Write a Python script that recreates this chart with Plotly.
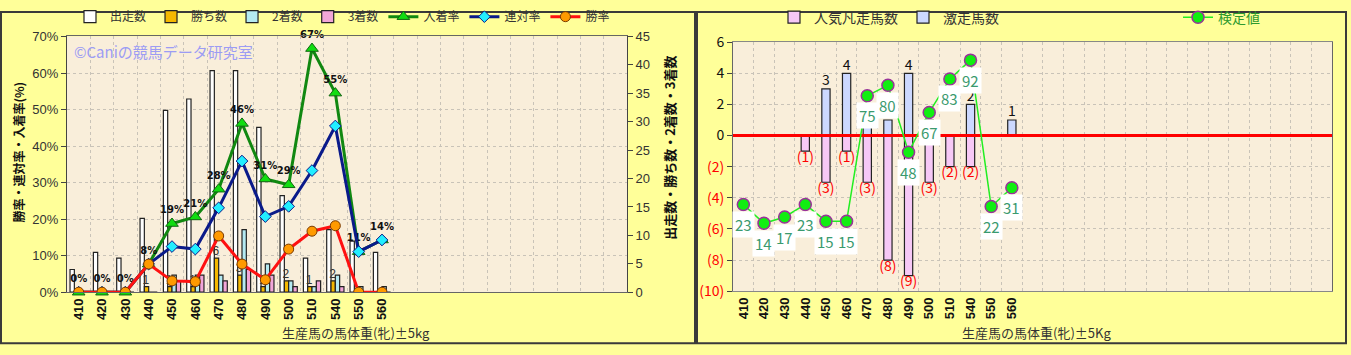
import plotly.graph_objects as go

# ---------------- data ----------------
weights = ["410", "420", "430", "440", "450", "460", "470", "480", "490", "500", "510", "540", "550", "560"]
runs = [4, 7, 6, 13, 32, 34, 39, 39, 29, 17, 6, 11, 9, 7]
wins = [0, 0, 0, 1, 1, 1, 6, 3, 1, 2, 1, 2, 0, 0]
seconds = [0, 0, 0, 0, 3, 3, 3, 11, 5, 2, 1, 3, 1, 1]
thirds = [0, 0, 0, 0, 2, 3, 2, 4, 3, 1, 2, 1, 0, 0]
place_rate = [0, 0, 0, 7.7, 18.8, 20.6, 28.2, 46.2, 31.0, 29.4, 66.7, 54.5, 11.1, 14.3]
rentai_rate = [0, 0, 0, 7.7, 12.5, 11.8, 23.1, 35.9, 20.7, 23.5, 33.3, 45.5, 11.1, 14.3]
win_rate = [0, 0, 0, 7.7, 3.1, 2.9, 15.4, 7.7, 3.4, 11.8, 16.7, 18.2, 0, 0]
place_labels = ["0%", "0%", "0%", "8%", "19%", "21%", "28%", "46%", "31%", "29%", "67%", "55%", "11%", "14%"]

gekisou = [0, 0, 0, 0, 3, 4, 1, 1, 4, 1, 0, 2, 0, 1]
ninki_bonsou = [0, 0, 0, -1, -3, -1, -3, -8, -9, -3, -2, -2, 0, 0]
kentei = [23, 14, 17, 23, 15, 15, 75, 80, 48, 67, 83, 92, 22, 31]

pct_ticks = [0, 10, 20, 30, 40, 50, 60, 70]
count_ticks = [0, 5, 10, 15, 20, 25, 30, 35, 40, 45]
right_ticks = [-10, -8, -6, -4, -2, 0, 2, 4, 6]

LEFT_SLOTS = 24
RIGHT_SLOTS = 29

# ---------------- styling ----------------
JP = "Noto Sans CJK JP"
LAT = "Liberation Sans"
W, H = 1351, 355
YELLOW = "#FFFF99"
PARCH = "#F9EEDA"
GRID = "#C9C3B8"

xs = list(range(len(weights)))

fig = go.Figure()

# ---- left chart: bars (counts axis, base subplot) ----
bar_specs = [
    ("出走数", runs, "#FFFFFF", -0.37),
    ("勝ち数", wins, "#F5B800", -0.185),
    ("2着数", seconds, "#B4EAF2", 0.0),
    ("3着数", thirds, "#F2A6D8", 0.185),
]
for name, vals, col, off in bar_specs:
    fig.add_trace(go.Bar(
        x=xs, y=vals, name=name, xaxis="x", yaxis="y",
        width=0.185, offset=off,
        marker=dict(color=col, line=dict(color="#222222", width=1.2)),
        legend="legend",
    ))

# win count labels
wl_x = [i for i, v in zip(xs, wins) if v > 0]
wl_y = [v for v in wins if v > 0]
fig.add_trace(go.Scatter(
    x=[i - 0.12 for i in wl_x], y=wl_y, mode="text", text=[str(v) for v in wl_y],
    textposition="top center", textfont=dict(family=LAT, size=12, color="#333333"),
    xaxis="x", yaxis="y", showlegend=False, hoverinfo="skip",
))

# ---- left chart: lines (percent axis, overlay subplot) ----
fig.add_trace(go.Scatter(
    x=xs, y=place_rate, name="入着率", mode="lines+markers+text",
    text=place_labels, textposition="top center", cliponaxis=False,
    textfont=dict(family="DejaVu Sans", size=10, color="#111111", weight="bold"),
    line=dict(color="#118811", width=3),
    marker=dict(symbol="triangle-up", size=11, color="#11DD11", line=dict(color="#116611", width=1)),
    xaxis="x", yaxis="y2", legend="legend",
))
fig.add_trace(go.Scatter(
    x=xs, y=rentai_rate, name="連対率", mode="lines+markers",
    line=dict(color="#0A1A8A", width=3),
    marker=dict(symbol="diamond", size=9, color="#22EEFF", line=dict(color="#0A1A8A", width=1)),
    xaxis="x", yaxis="y2", legend="legend",
))
fig.add_trace(go.Scatter(
    x=xs, y=win_rate, name="勝率", mode="lines+markers",
    line=dict(color="#FF1111", width=3),
    marker=dict(symbol="circle", size=10, color="#FF9A00", line=dict(color="#7A3A00", width=1)),
    xaxis="x", yaxis="y2", legend="legend",
))

# ---- right chart ----
fig.add_trace(go.Bar(
    x=xs, y=ninki_bonsou, name="人気凡走馬数", xaxis="x2", yaxis="y3",
    width=0.4, offset=-0.2,
    marker=dict(color="#F6C8F6", line=dict(color="#222222", width=1.2)),
    legend="legend2",
))
fig.add_trace(go.Bar(
    x=xs, y=gekisou, name="激走馬数", xaxis="x2", yaxis="y3",
    width=0.4, offset=-0.2,
    marker=dict(color="#CCD8FF", line=dict(color="#222222", width=1.2)),
    legend="legend2",
))
# zero line
fig.add_trace(go.Scatter(
    x=[-0.5, RIGHT_SLOTS - 0.5], y=[0, 0], mode="lines",
    line=dict(color="#FF0000", width=3), xaxis="x2", yaxis="y3",
    showlegend=False, hoverinfo="skip",
))
# bar labels
pos_x = [i for i, v in zip(xs, gekisou) if v > 0]
pos_v = [v for v in gekisou if v > 0]
fig.add_trace(go.Scatter(
    x=pos_x, y=pos_v, mode="text", text=[str(v) for v in pos_v], textposition="top center",
    textfont=dict(family=JP, size=14, color="#111111"),
    xaxis="x2", yaxis="y3", showlegend=False, hoverinfo="skip",
))
neg_x = [i for i, v in zip(xs, ninki_bonsou) if v < 0]
neg_v = [v for v in ninki_bonsou if v < 0]
fig.add_trace(go.Scatter(
    x=neg_x, y=neg_v, mode="text", text=["(%d)" % (-v) for v in neg_v], textposition="bottom center",
    textfont=dict(family=JP, size=14, color="#FF0000"), cliponaxis=False,
    xaxis="x2", yaxis="y3", showlegend=False, hoverinfo="skip",
))
# 検定値 line (overlay axis)
fig.add_trace(go.Scatter(
    x=xs, y=kentei, name="検定値", mode="lines+markers",
    line=dict(color="#22EE22", width=1.5),
    marker=dict(symbol="circle", size=12, color="#11EE11", line=dict(color="#993399", width=1.5)),
    xaxis="x2", yaxis="y4", legend="legend3",
))

annotations = []
for i, v in zip(xs, kentei):
    annotations.append(dict(
        x=i, y=v, xref="x2", yref="y4", yshift=-20, text=str(v), showarrow=False,
        bgcolor="#FFFFFF", borderpad=2, font=dict(family=JP, size=15, color="#3A9A6E"),
    ))

# watermark
annotations.append(dict(
    x=72 / W, y=1 - 43 / H, xref="paper", yref="paper", xanchor="left", yanchor="middle",
    text="©Caniの競馬データ研究室", showarrow=False,
    font=dict(family=JP, size=15, color="#9C9CF4"),
))
# axis titles
annotations += [
    dict(x=356 / W, y=1 - 341 / H, xref="paper", yref="paper", text="生産馬の馬体重(牝)±5kg",
         xanchor="center", yanchor="middle",
         showarrow=False, font=dict(family=JP, size=13, color="#333333")),
    dict(x=1036 / W, y=1 - 341 / H, xref="paper", yref="paper", text="生産馬の馬体重(牝)±5Kg",
         xanchor="center", yanchor="middle",
         showarrow=False, font=dict(family=JP, size=13, color="#333333")),
    dict(x=19 / W, y=1 - 150 / H, xref="paper", yref="paper", text="勝率・連対率・入着率(%)",
         xanchor="center", yanchor="middle",
         textangle=-90, showarrow=False, font=dict(family=JP, size=12, color="#111111", weight="bold")),
    dict(x=670 / W, y=1 - 145 / H, xref="paper", yref="paper", text="出走数・勝ち数・2着数・3着数",
         xanchor="center", yanchor="middle",
         textangle=-90, showarrow=False, font=dict(family=JP, size=13, color="#111111", weight="bold")),
]

shapes = [
    dict(type="rect", xref="paper", yref="paper", x0=1 / W, x1=695 / W, y0=1 - 352 / H, y1=1 - 1 / H,
         line=dict(color="#3A3A3A", width=2), layer="above"),
    dict(type="rect", xref="paper", yref="paper", x0=697 / W, x1=1346 / W, y0=1 - 352 / H, y1=1 - 1 / H,
         line=dict(color="#3A3A3A", width=2), layer="above"),
]

tickfont_x = dict(family=LAT, size=13, color="#111111", weight="bold")
grid_common = dict(gridcolor=GRID, griddash="dot", gridwidth=1)

red_span = '<span style="color:#FF0000">(%d)</span>'
right_ticktext = [red_span % (-t) if t < 0 else str(t) for t in right_ticks]
pct_ticktext = ["%d%%" % t for t in pct_ticks]

fig.update_layout(
    width=W, height=H,
    margin=dict(l=0, r=0, t=0, b=0),
    paper_bgcolor=YELLOW, plot_bgcolor=PARCH,
    barmode="group",
    showlegend=True,
    font=dict(family=JP, size=13, color="#333333"),
    xaxis=dict(
        domain=[67 / W, 627 / W], range=[-0.5, LEFT_SLOTS - 0.5], anchor="y",
        tickmode="array", tickvals=xs, ticktext=weights, tickangle=-90, tickfont=tickfont_x,
        showgrid=False, showline=True, linecolor="#666666", mirror=True, ticks="",
        minor=dict(tickmode="array", tickvals=[i + 0.5 for i in range(LEFT_SLOTS - 1)], showgrid=True, **grid_common),
        zeroline=False,
    ),
    yaxis=dict(
        domain=[1 - 298 / H, 1 - 27 / H], range=[0, 45], side="right", anchor="x",
        tickmode="array", tickvals=count_ticks, showgrid=False, zeroline=False,
        ticks="outside", ticklen=5, tickcolor="#444444", showline=True, linecolor="#444444",
        tickfont=dict(family=LAT, size=13, color="#333333"),
    ),
    yaxis2=dict(
        overlaying="y", side="left", anchor="x", range=[0, 70],
        tickmode="array", tickvals=pct_ticks, ticktext=pct_ticktext, showgrid=True, zeroline=False,
        ticks="outside", ticklen=5, tickcolor="#444444", showline=True, linecolor="#444444",
        tickfont=dict(family=LAT, size=13, color="#333333"), **grid_common,
    ),
    xaxis2=dict(
        domain=[733 / W, 1332 / W], range=[-0.5, RIGHT_SLOTS - 0.5], anchor="y3",
        tickmode="array", tickvals=xs, ticktext=weights, tickangle=-90, tickfont=tickfont_x,
        showgrid=False, showline=True, linecolor="#888888", mirror=True, ticks="",
        minor=dict(tickmode="array", tickvals=[i + 0.5 for i in range(RIGHT_SLOTS - 1)], showgrid=True, **grid_common),
        zeroline=False,
    ),
    yaxis3=dict(
        domain=[1 - 297 / H, 1 - 33 / H], range=[-10, 6], anchor="x2",
        tickmode="array", tickvals=right_ticks, ticktext=right_ticktext,
        showgrid=True, zeroline=False, ticks="outside", ticklen=5, tickcolor="#444444",
        showline=True, linecolor="#666666", mirror=True,
        tickfont=dict(family=JP, size=14, color="#111111"), **grid_common,
    ),
    yaxis4=dict(
        overlaying="y3", anchor="x2", range=[-18.5, 100.6], visible=False,
    ),
    legend=dict(
        orientation="h", x=70 / W, y=1 - 6 / H, xanchor="left", yanchor="middle",
        bgcolor="rgba(0,0,0,0)", font=dict(family=JP, size=12, color="#333333"),
        itemwidth=30, traceorder="normal",
    ),
    legend2=dict(
        orientation="h", x=774 / W, y=1 - 7 / H, xanchor="left", yanchor="middle",
        bgcolor="rgba(0,0,0,0)", font=dict(family=JP, size=14, color="#333333"),
        itemwidth=30,
    ),
    legend3=dict(
        orientation="h", x=1178 / W, y=1 - 7 / H, xanchor="left", yanchor="middle",
        bgcolor="rgba(0,0,0,0)", font=dict(family=JP, size=14, color="#2E9A2E"),
        itemwidth=30,
    ),
    annotations=annotations,
    shapes=shapes,
)

fig.write_html("out.html")
